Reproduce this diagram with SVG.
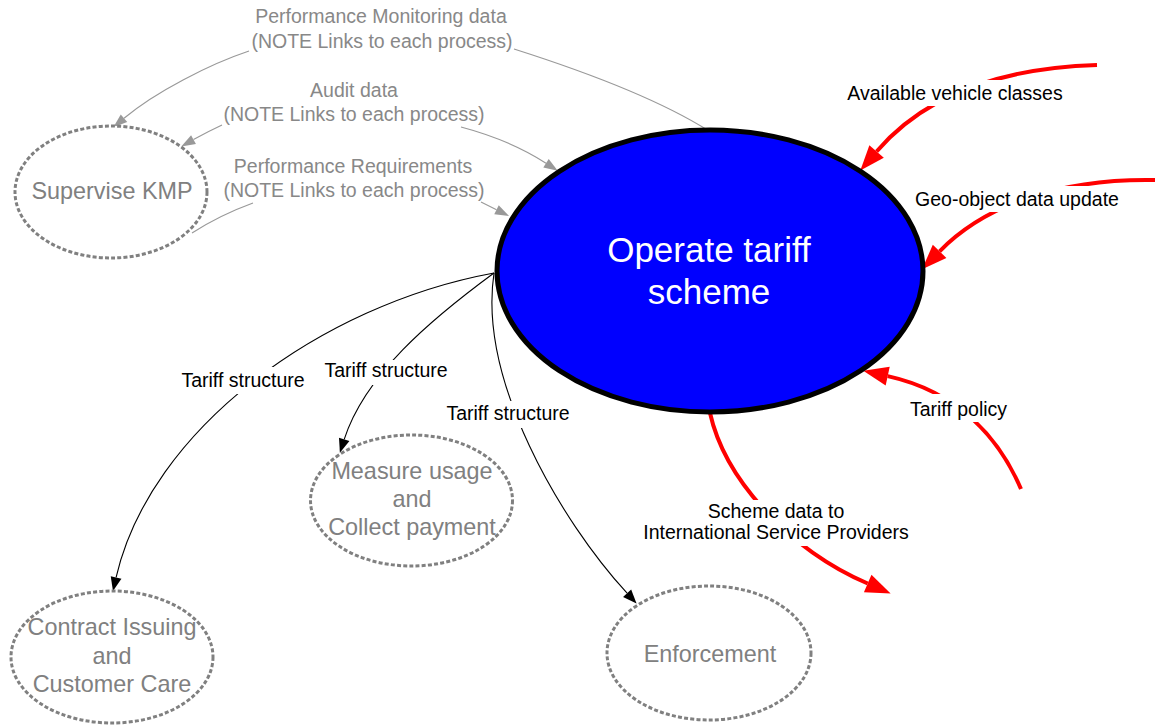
<svg xmlns="http://www.w3.org/2000/svg" width="1155" height="725" viewBox="0 0 1155 725">
<style>
text{font-family:"Liberation Sans",Arial,sans-serif;text-anchor:middle}
.proc{fill:#ffffff;stroke:#808080;stroke-width:3;stroke-dasharray:4 2.2}
.ptxt{fill:#808080;font-size:23.4px}
.gray{fill:none;stroke:#999999;stroke-width:1.2}
.blk{fill:none;stroke:#000000;stroke-width:1.1}
.red{fill:none;stroke:#ff0000;stroke-width:4}
.glbl{fill:#888888;font-size:19.5px}
.lbl{fill:#000000;font-size:19.5px}
.bg{fill:#ffffff}
</style>
<defs>
<marker id="ag" markerUnits="userSpaceOnUse" markerWidth="14" markerHeight="10" refX="0" refY="5" orient="auto" overflow="visible"><path d="M0,0 L14,5 L0,10 z" fill="#999999"/></marker>
<marker id="ab" markerUnits="userSpaceOnUse" markerWidth="14" markerHeight="11" refX="0" refY="5.5" orient="auto" overflow="visible"><path d="M0,0 L14,5.5 L0,11 z" fill="#000000"/></marker>
<marker id="ar" markerUnits="userSpaceOnUse" markerWidth="25" markerHeight="19" refX="0" refY="9.5" orient="auto" overflow="visible"><path d="M0,0 L25,9.5 L0,19 z" fill="#ff0000"/></marker>
</defs>
<rect width="1155" height="725" fill="#ffffff"/>
<g id="connectors">
<path class="gray" d="M514 49 C580 70 660 100 709 131"/>
<path class="gray" d="M249 51 C210 64 155 92 124 118.3" marker-end="url(#ag)"/>
<path class="gray" d="M222 125 Q208 131.5 193.5 139.6" marker-end="url(#ag)"/>
<path class="gray" d="M461 127 Q510 140 546 163.2" marker-end="url(#ag)"/>
<path class="gray" d="M192 233 Q220 215 253 203"/>
<path class="gray" d="M481 202 L496.5 209.7" marker-end="url(#ag)"/>
<path class="blk" d="M494 273 C320 305 150 430 116.1 577.4" marker-end="url(#ab)"/>
<path class="blk" d="M494 273 C430 320 365 375 344.2 439.4" marker-end="url(#ab)"/>
<path class="blk" d="M494 273 C478 380 560 520 627.1 593.2" marker-end="url(#ab)"/>
<path class="red" d="M1097 65 C1000 68 925 95 876.6 151.5" marker-end="url(#ar)"/>
<path class="red" d="M1156 180 C1060 178 985 205 939.6 251.3" marker-end="url(#ar)"/>
<path class="red" d="M1021 489 C1000 440 960 392 887.7 376.1" marker-end="url(#ar)"/>
<path class="red" d="M710 413 C725 480 790 550 867.7 583.5" marker-end="url(#ar)"/>
<rect class="bg" x="177" y="367" width="132" height="27"/>
<rect class="bg" x="321" y="360" width="130" height="25"/>
<rect class="bg" x="442" y="401" width="132" height="27"/>
<rect class="bg" x="843" y="80" width="225" height="26"/>
<rect class="bg" x="912" y="186" width="210" height="26"/>
<rect class="bg" x="906" y="394" width="105" height="28"/>
<rect class="bg" x="640" y="500" width="273" height="46"/>
<text class="glbl" x="381" y="23">Performance Monitoring data</text>
<text class="glbl" x="382" y="48">(NOTE Links to each process)</text>
<text class="glbl" x="354" y="97">Audit data</text>
<text class="glbl" x="354" y="121">(NOTE Links to each process)</text>
<text class="glbl" x="353" y="173">Performance Requirements</text>
<text class="glbl" x="354" y="197">(NOTE Links to each process)</text>
<text class="lbl" x="243" y="387">Tariff structure</text>
<text class="lbl" x="386" y="377">Tariff structure</text>
<text class="lbl" x="508" y="420">Tariff structure</text>
<text class="lbl" x="955" y="99.5">Available vehicle classes</text>
<text class="lbl" x="1017" y="205.5">Geo-object data update</text>
<text class="lbl" x="958.5" y="415.5">Tariff policy</text>
<text class="lbl" x="776" y="517.5">Scheme data to</text>
<text class="lbl" x="776" y="539">International Service Providers</text>
</g>
<g id="operate-tariff-scheme">
<ellipse cx="710" cy="271" rx="213" ry="141" fill="#0000ff" stroke="#000000" stroke-width="5"/>
<text x="709" y="262" fill="#ffffff" font-size="35">Operate tariff</text>
<text x="709" y="304" fill="#ffffff" font-size="35">scheme</text>
</g>
<g id="supervise-kmp">
<ellipse class="proc" cx="111" cy="192" rx="96" ry="66"/>
<text class="ptxt" x="112" y="199">Supervise KMP</text>
</g>
<g id="measure-usage">
<ellipse class="proc" cx="411.5" cy="500.5" rx="101" ry="65.5"/>
<text class="ptxt" x="412" y="478.5">Measure usage</text>
<text class="ptxt" x="412" y="507">and</text>
<text class="ptxt" x="412" y="535">Collect payment</text>
</g>
<g id="contract-issuing">
<ellipse class="proc" cx="112" cy="657" rx="101" ry="66"/>
<text class="ptxt" x="112" y="635">Contract Issuing</text>
<text class="ptxt" x="112" y="664">and</text>
<text class="ptxt" x="112" y="692">Customer Care</text>
</g>
<g id="enforcement">
<ellipse class="proc" cx="709" cy="653" rx="102" ry="67"/>
<text class="ptxt" x="710" y="662">Enforcement</text>
</g>
</svg>
